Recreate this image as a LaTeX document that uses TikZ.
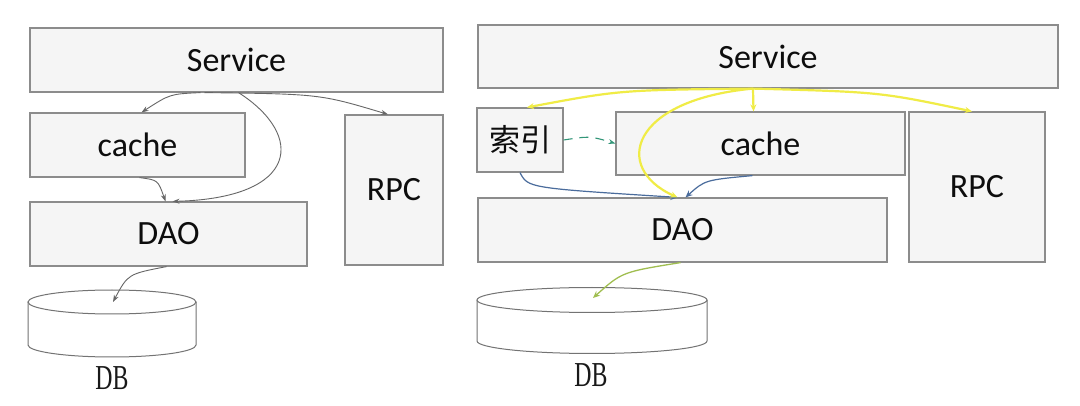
\documentclass[tikz,border=0pt]{standalone}
\usepackage{fontspec}
\setmainfont{Carlito}
\newfontfamily\cjk{Noto Sans CJK SC}
\newfontfamily\dbfont{Liberation Serif}
\usetikzlibrary{arrows.meta}
\definecolor{ylwc}{RGB}{240,236,70}
\definecolor{bluc}{RGB}{74,108,156}
\definecolor{grnc}{RGB}{160,190,80}
\definecolor{tealc}{RGB}{50,150,120}
\definecolor{boxfill}{RGB}{245,245,245}
\definecolor{boxline}{RGB}{140,140,140}
\begin{document}
\begin{tikzpicture}[x=1pt,y=-1pt,
  box/.style={draw=boxline,line width=1.2pt,fill=boxfill,inner sep=0pt,
    font=\fontsize{34}{38}\selectfont,text=black!95},
  conn/.style={line width=0.9pt,draw=black!60,-{Stealth[length=7pt,width=5pt]}},
  ylw/.style={line width=2.2pt,draw=ylwc,-{Stealth[length=7pt,width=6pt]}},
  blu/.style={line width=1.2pt,draw=bluc,-{Stealth[length=7pt,width=6pt]}},
  dbl/.style={font=\dbfont\fontsize{35}{38}\selectfont,xscale=0.68,text=black!90},
  cyl/.style={draw=black!55,line width=1pt,fill=white}]
\useasboundingbox (0,0) rectangle (1080,406);
\fill[white] (0,0) rectangle (1080,406);

% ---------- left diagram ----------
\node[box,minimum width=413pt,minimum height=64pt] (svcL) at (236.5,60) {Service};
\node[box,minimum width=215pt,minimum height=64pt] (cacheL) at (137.5,145) {cache};
\node[box,minimum width=98pt,minimum height=150pt] (rpcL) at (394,190) {RPC};
\node[box,minimum width=277pt,minimum height=64pt] (daoL) at (168.5,234) {DAO};

\filldraw[cyl] (28,302) -- (28,345) arc[start angle=180,end angle=360,x radius=84pt,y radius=12pt] -- (196,302);
\draw[cyl] (112,302) ellipse [x radius=84pt,y radius=12pt];
\coordinate (dbLt) at (113,302);
\node[dbl] (dbLlab) at (112,378) {DB};

\draw[conn] ([xshift=-36]svcL.south) .. controls (170,94) .. ([xshift=4]cacheL.north);
\draw[conn] ([xshift=-32]svcL.south) .. controls (320,94) .. ([xshift=-6]rpcL.north);
\draw[conn] ([xshift=2]svcL.south) .. controls (305,135) and (300,198) .. ([xshift=4]daoL.north);
\draw[conn] ([xshift=2]cacheL.south) .. controls (158,180) .. ([xshift=-3]daoL.north);
\draw[conn] ([xshift=-2]daoL.south) .. controls (128,274) .. (dbLt);

% ---------- right diagram ----------
\node[box,minimum width=580pt,minimum height=63pt] (svcR) at (768,56.5) {Service};
\node[box,minimum width=86pt,minimum height=64pt,font=\cjk\fontsize{31}{34}\selectfont] (idx) at (520,140) {索引};
\node[box,minimum width=289pt,minimum height=63pt] (cacheR) at (760.5,143.5) {cache};
\node[box,minimum width=136pt,minimum height=150pt] (rpcR) at (977,187) {RPC};
\node[box,minimum width=409pt,minimum height=64pt] (daoR) at (682.5,230) {DAO};

\filldraw[cyl] (477,300) -- (477,341) arc[start angle=180,end angle=360,x radius=115pt,y radius=12.5pt] -- (707,300);
\draw[cyl] (592,300) ellipse [x radius=115pt,y radius=12.5pt];
\coordinate (dbRt) at (593,298);
\node[dbl] (dbRlab) at (591,375) {DB};

\coordinate (hub) at ([xshift=-15]svcR.south);
\draw[blu] (idx.south) .. controls (528,188) .. ([xshift=-5]daoR.north);
\draw[blu] ([xshift=-8]cacheR.south) .. controls (705,180) .. ([xshift=3]daoR.north);
\draw[ylw] (hub) .. controls (620,90) .. ([xshift=7]idx.north);
\draw[ylw] (hub) -- ([xshift=-7]cacheR.north);
\draw[ylw] (hub) .. controls (880,92) .. ([xshift=-5]rpcR.north);
\draw[ylw] (hub) .. controls (630,100) and (612,168) .. ([xshift=-5]daoR.north);
\draw[line width=1.1pt,draw=tealc,dash pattern=on 9pt off 7pt,-{Stealth[length=7pt,width=5pt]}]
  (idx.east) .. controls (590,136) .. (cacheR.west);
\draw[line width=1.3pt,draw=grnc,-{Stealth[length=7pt,width=6pt]}]
  ([xshift=-2]daoR.south) .. controls (622,272) .. (dbRt);
\end{tikzpicture}
\end{document}
